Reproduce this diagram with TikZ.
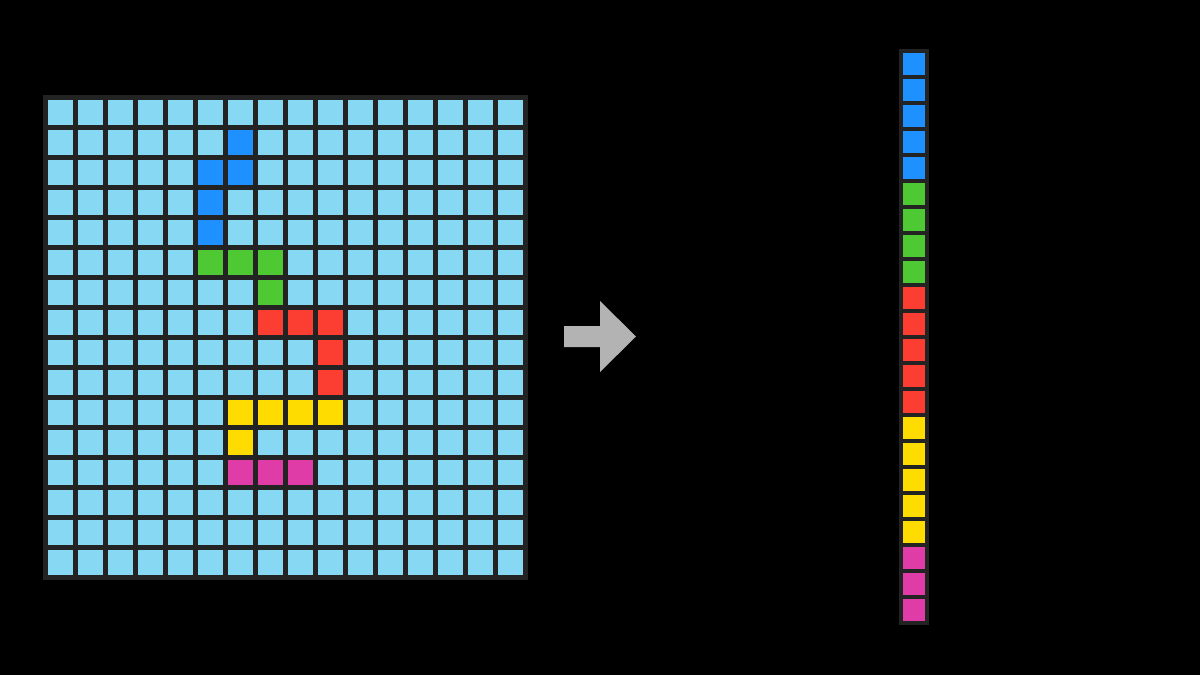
\documentclass[tikz,border=0pt]{standalone}
\usepackage{tikz}
\definecolor{bgc}{HTML}{000000}
\definecolor{frame}{HTML}{232323}
\definecolor{cellc}{HTML}{87D8F2}
\definecolor{cblue}{HTML}{1E90FF}
\definecolor{cgreen}{HTML}{4EC933}
\definecolor{cred}{HTML}{FC3D32}
\definecolor{cyellow}{HTML}{FFDC00}
\definecolor{cmag}{HTML}{E03CA8}
\definecolor{arrowc}{HTML}{B3B3B3}
\tikzset{
  gcell/.style={fill=#1},
  ccell/.style={fill=#1}
}
\newcommand{\gridcell}[3]{\fill[#3] ({48+30*#1},{100+30*#2}) rectangle ++(25,25);}
\newcommand{\colcell}[2]{\fill[#2] (903,{53+26*#1}) rectangle ++(22,22);}
\begin{document}
\begin{tikzpicture}[x=1pt,y=-1pt]
\fill[bgc] (0,0) rectangle (1200,675);
\useasboundingbox (0,0) rectangle (1200,675);
% grid
\fill[frame] (43,95) rectangle (528,580);
\foreach \c in {0,...,15}{
  \foreach \r in {0,...,15}{
    \gridcell{\c}{\r}{cellc}
  }
}
% blue
\gridcell{6}{1}{cblue}
\gridcell{5}{2}{cblue}
\gridcell{6}{2}{cblue}
\gridcell{5}{3}{cblue}
\gridcell{5}{4}{cblue}
% green
\gridcell{5}{5}{cgreen}
\gridcell{6}{5}{cgreen}
\gridcell{7}{5}{cgreen}
\gridcell{7}{6}{cgreen}
% red
\gridcell{7}{7}{cred}
\gridcell{8}{7}{cred}
\gridcell{9}{7}{cred}
\gridcell{9}{8}{cred}
\gridcell{9}{9}{cred}
% yellow
\gridcell{6}{10}{cyellow}
\gridcell{7}{10}{cyellow}
\gridcell{8}{10}{cyellow}
\gridcell{9}{10}{cyellow}
\gridcell{6}{11}{cyellow}
% magenta
\gridcell{6}{12}{cmag}
\gridcell{7}{12}{cmag}
\gridcell{8}{12}{cmag}
% arrow
\fill[arrowc] (564,326) -- (600,326) -- (600,301) -- (636,336.5) -- (600,372) -- (600,347) -- (564,347) -- cycle;
% column
\fill[frame] (899,49) rectangle (929,625);
\foreach \i in {0,...,4}{\colcell{\i}{cblue}}
\foreach \i in {5,...,8}{\colcell{\i}{cgreen}}
\foreach \i in {9,...,13}{\colcell{\i}{cred}}
\foreach \i in {14,...,18}{\colcell{\i}{cyellow}}
\foreach \i in {19,...,21}{\colcell{\i}{cmag}}
\end{tikzpicture}
\end{document}
